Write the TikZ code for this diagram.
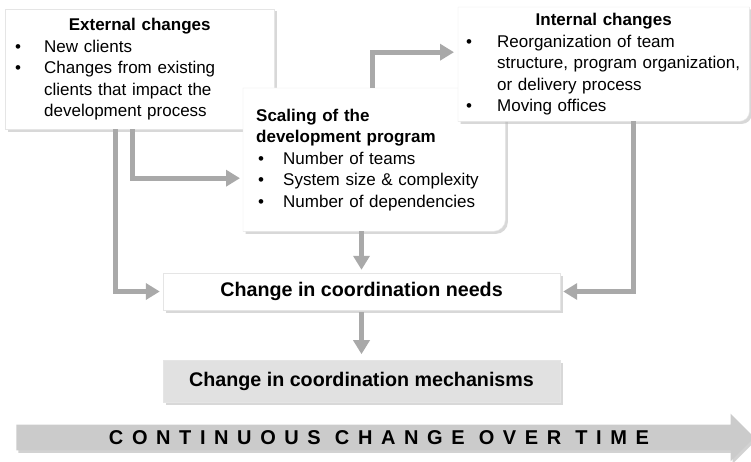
\documentclass[tikz,border=0pt]{standalone}
\usepackage{fontspec}
\setmainfont{Liberation Sans}
\newfontfamily\spacedfont[LetterSpace=43]{Liberation Sans}
\usetikzlibrary{shapes.arrows,arrows.meta,positioning,shadows,backgrounds}

\definecolor{flowgray}{HTML}{A9A9A9}
\definecolor{mechgray}{HTML}{E1E1E1}
\definecolor{timegray}{HTML}{CBCBCB}

\tikzstyle{boxback} = [fill=white, draw=black!10, drop shadow={shadow xshift=2.5pt, shadow yshift=-2.5pt, fill=black!30}]
\tikzstyle{changebox} = [anchor=north west, inner xsep=8pt, inner ysep=0pt, align=left, font=\fontsize{17}{21.5}\selectfont]
\tikzstyle{needbox} = [boxback, minimum width=397pt, minimum height=37pt, font=\fontsize{19.7}{24}\selectfont\bfseries]
\tikzstyle{mechbox} = [needbox, fill=mechgray, minimum height=42pt]
\tikzstyle{flow} = [draw, line width=5pt, color=flowgray, -{Triangle[width=16pt,length=14pt]}, shorten >=3pt]
\tikzstyle{timearrow} = [single arrow, fill=timegray, minimum height=738pt, single arrow head extend=11pt, inner ysep=5.5pt, text height=14.5pt, text depth=0pt, font=\fontsize{20}{20}\spacedfont\bfseries, drop shadow={shadow xshift=2pt, shadow yshift=-2.5pt, fill=black!35}]

% centred heading and hanging bullet line inside the change boxes
\newcommand{\boxhead}[1]{{\centering\bfseries #1\par}}
\newcommand{\bitem}[2][31pt]{{\noindent\hangindent=#1\hangafter=1\makebox[#1][l]{\hspace{2pt}\textbullet}#2\par}}

\begin{document}
\begin{tikzpicture}[x=1pt, y=-1pt]
  \useasboundingbox (0,0) rectangle (751,462);

  % sources of change
  \node[changebox, text width=253pt, minimum height=120pt] (ext) at (5,9) {%
    \boxhead{External changes}
    \bitem{New clients}
    \bitem{Changes from existing\newline clients that impact the\newline development process}};
  \node[changebox, inner xsep=13pt, text width=236pt, minimum height=143pt] (scal) at (243,88) {%
    {\bfseries Scaling of the\newline development program\par}
    \bitem[27pt]{Number of teams}
    \bitem[27pt]{System size \& complexity}
    \bitem[27pt]{Number of dependencies}};
  \node[changebox, inner xsep=6pt, text width=279pt, minimum height=114pt] (int) at (458,7) {%
    \boxhead{Internal changes}
    \bitem[33pt]{Reorganization of team\newline structure, program organization,\newline or delivery process}
    \bitem[33pt]{Moving offices}};

  \begin{pgfonlayer}{background}
    \path[boxback] (ext.north west) rectangle (ext.south east);
    \path[boxback] (scal.north west) -- (scal.north east) [rounded corners=12pt] -- (scal.south east) [sharp corners] -- (scal.south west) -- cycle;
    \path[boxback] (int.north west) -- (int.north east) [rounded corners=10pt] -- (int.south east) [sharp corners] -- (int.south west) -- cycle;
  \end{pgfonlayer}

  % coordination
  \node[needbox] (needs) at (361.5,291.5) {Change in coordination needs};
  \node[mechbox, below=50pt of needs] (mech) {Change in coordination mechanisms};

  \node[timearrow] (time) at (379,437.5) {CONTINUOUS CHANGE OVER TIME};

  \path[flow] ([xshift=110pt]ext.south west) |- (needs.west);
  \path[flow] ([xshift=127pt]ext.south west) |- ([yshift=-18.5pt]scal.west);
  \path[flow, shorten >=4pt] ([xshift=-2pt]scal.north) |- ([yshift=12pt]int.west);
  \path[flow] (scal.south -| needs.north) -- (needs.north);
  \path[flow, shorten >=6pt, shorten <=2pt] (needs.south) -- (mech.north);
  \path[flow] ([xshift=29.5pt]int.south) |- (needs.east);

\end{tikzpicture}
\end{document}
